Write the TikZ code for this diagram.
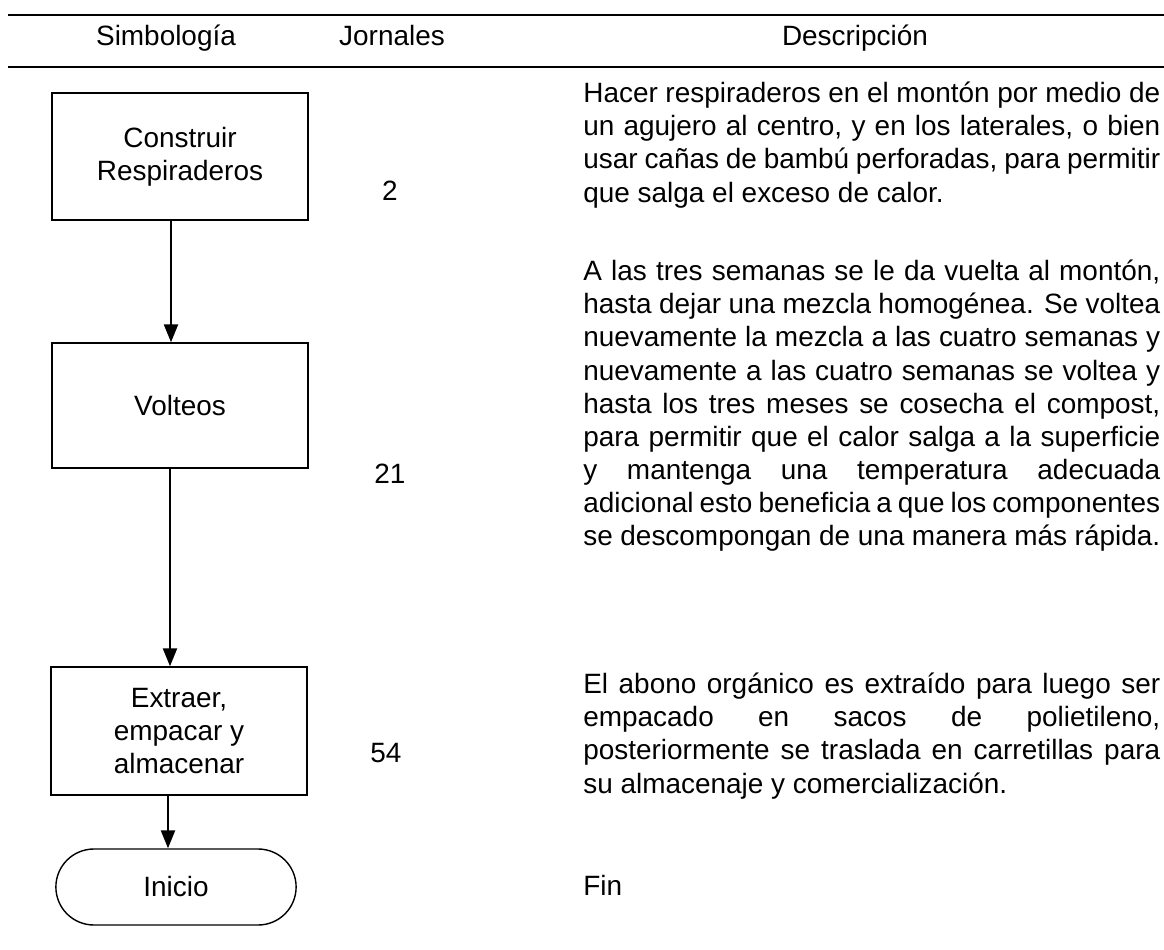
\documentclass[tikz,border=0pt]{standalone}
\usepackage{fontspec}
\setmainfont{Liberation Sans}
\usepackage{tikz}
\usetikzlibrary{positioning}
\usetikzlibrary{arrows.meta}
\usetikzlibrary{shapes.misc}
\setlength{\parindent}{0pt}
\hyphenpenalty=10000
\tolerance=9999

\tikzset{
  caja/.style={draw, line width=0.8pt, minimum width=5.12cm, minimum height=2.54cm, align=center, inner sep=0pt},
  terminal/.style={draw, line width=0.8pt, rounded rectangle, minimum width=5.04cm, minimum height=1.52cm},
  flecha/.style={line width=1.3pt, -{Triangle[length=0.36cm,width=0.28cm]}},
  parrafo/.style={anchor=north west, inner sep=0pt, text width=11.54cm, align=justify},
  regla/.style={line width=0.7pt}
}

\begin{document}
\begin{tikzpicture}[x=0.02cm, y=-0.02cm, every node/.style={font=\fontsize{15.9}{18.8}\selectfont}]
  \useasboundingbox (0,0) rectangle (1164,950);
  % encabezado
  \draw[regla] (8,15) -- (1164,15);
  \draw[regla] (8,67) -- (1164,67);
  \node[anchor=base] (hsim) at (166,46) {Simbología};
  \node[anchor=base] (hjor) at (392,46) {Jornales};
  \node[anchor=base] (hdes) at (855,46) {Descripción};
  % simbologia
  \node[caja] (b1) at (180,156.5) {Construir\\Respiraderos};
  \node[caja, minimum height=2.5cm] (b2) at (180,405.5) {Volteos};
  \node[caja, minimum height=2.56cm] (b3) at (179,731) {Extraer,\\empacar y\\almacenar};
  \node[terminal] (t1) at (176,887) {Inicio};
  \draw[flecha] ([xshift=-0.18cm]b1.south) -- ([xshift=-0.18cm]b1.south |- b2.north);
  \draw[flecha] ([xshift=-0.2cm]b2.south) -- ([xshift=-0.2cm]b2.south |- b3.north);
  \draw[flecha] ([xshift=-0.22cm]b3.south) -- ([xshift=-0.22cm]b3.south |- t1.north);
  % jornales
  \node[anchor=base] (j1) at (390,200) {2};
  \node[anchor=base] (j2) at (390,483) {21};
  \node[anchor=base] (j3) at (386,762) {54};
  % descripcion
  \node[parrafo] (d1) at (583,82) {Hacer respiraderos en el montón por medio de\linebreak
    un agujero al centro, y en los laterales, o bien\linebreak
    usar cañas de bambú perforadas, para permitir\linebreak
    que salga el exceso de calor.};
  \node[parrafo] (d2) at (583,260) {A las tres semanas se le da vuelta al montón,\linebreak
    hasta dejar una mezcla homogénea. Se voltea\linebreak
    nuevamente la mezcla a las cuatro semanas y\linebreak
    nuevamente a las cuatro semanas se voltea y\linebreak
    hasta los tres meses se cosecha el compost,\linebreak
    para permitir que el calor salga a la superficie\linebreak
    y mantenga una temperatura adecuada\linebreak
    adicional esto beneficia a que los componentes\linebreak
    se descompongan de una manera más rápida.};
  \node[parrafo] (d3) at (583,673) {El abono orgánico es extraído para luego ser\linebreak
    empacado en sacos de polietileno,\linebreak
    posteriormente se traslada en carretillas para\linebreak
    su almacenaje y comercialización.};
  \node[anchor=base west, inner sep=0pt] (fin) at (583,895) {Fin};
\end{tikzpicture}
\end{document}
